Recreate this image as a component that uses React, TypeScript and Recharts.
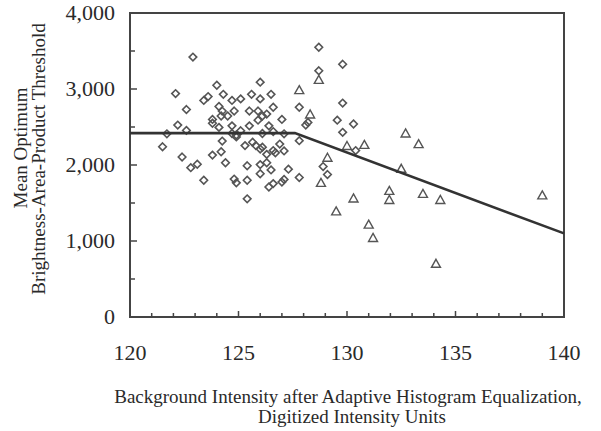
import { ScatterChart, Scatter, XAxis, YAxis, ReferenceArea } from "recharts";

// observers' points (x = background intensity, y = threshold)
const diamonds = [
  { x: 122.9, y: 3420 }, { x: 122.1, y: 2940 }, { x: 124.0, y: 3050 }, { x: 126.0, y: 3090 },
  { x: 125.6, y: 2930 }, { x: 124.3, y: 2930 }, { x: 123.6, y: 2900 }, { x: 123.4, y: 2850 },
  { x: 124.7, y: 2850 }, { x: 125.1, y: 2870 }, { x: 126.0, y: 2870 }, { x: 126.5, y: 2930 },
  { x: 122.6, y: 2730 }, { x: 124.1, y: 2770 }, { x: 124.25, y: 2710 }, { x: 124.8, y: 2710 },
  { x: 125.5, y: 2710 }, { x: 125.9, y: 2710 }, { x: 126.6, y: 2760 }, { x: 124.2, y: 2645 },
  { x: 124.5, y: 2645 }, { x: 126.1, y: 2645 }, { x: 126.3, y: 2670 }, { x: 123.8, y: 2600 },
  { x: 123.8, y: 2550 }, { x: 127.0, y: 2600 }, { x: 125.9, y: 2590 }, { x: 122.2, y: 2525 },
  { x: 122.6, y: 2455 }, { x: 124.1, y: 2495 }, { x: 124.7, y: 2515 }, { x: 125.5, y: 2515 },
  { x: 126.4, y: 2515 }, { x: 125.1, y: 2450 }, { x: 121.7, y: 2410 }, { x: 124.7, y: 2415 },
  { x: 124.9, y: 2395 }, { x: 126.1, y: 2415 }, { x: 126.6, y: 2440 }, { x: 127.1, y: 2410 },
  { x: 125.3, y: 2255 }, { x: 125.65, y: 2300 }, { x: 124.25, y: 2315 }, { x: 121.5, y: 2240 },
  { x: 125.8, y: 2255 }, { x: 126.1, y: 2235 }, { x: 126.9, y: 2275 }, { x: 126.6, y: 2190 },
  { x: 126.7, y: 2160 }, { x: 127.1, y: 2185 }, { x: 122.4, y: 2105 }, { x: 123.8, y: 2130 },
  { x: 124.2, y: 2175 }, { x: 126.3, y: 2140 }, { x: 124.4, y: 2030 }, { x: 122.8, y: 1965 },
  { x: 123.1, y: 2010 }, { x: 125.4, y: 1990 }, { x: 126.0, y: 2005 }, { x: 126.3, y: 2030 },
  { x: 126.0, y: 1885 }, { x: 126.5, y: 1935 }, { x: 127.3, y: 1945 }, { x: 127.8, y: 1835 },
  { x: 123.4, y: 1800 }, { x: 124.8, y: 1815 }, { x: 124.9, y: 1765 }, { x: 125.4, y: 1800 },
  { x: 126.6, y: 1755 }, { x: 126.4, y: 1710 }, { x: 127.0, y: 1775 }, { x: 127.1, y: 1810 },
  { x: 125.4, y: 1555 }, { x: 127.8, y: 2760 }, { x: 128.7, y: 3550 }, { x: 129.8, y: 3325 },
  { x: 128.7, y: 3240 }, { x: 129.8, y: 2815 }, { x: 129.55, y: 2590 }, { x: 130.3, y: 2540 },
  { x: 128.1, y: 2525 }, { x: 128.2, y: 2560 }, { x: 129.8, y: 2430 }, { x: 127.8, y: 2320 },
  { x: 130.4, y: 2190 }, { x: 128.9, y: 1980 }, { x: 129.1, y: 1875 }, { x: 126.0, y: 2210 },
  { x: 124.9, y: 2370 },
];

const triangles = [
  { x: 127.8, y: 2985 }, { x: 128.7, y: 3120 }, { x: 128.3, y: 2665 }, { x: 130.0, y: 2250 },
  { x: 130.8, y: 2265 }, { x: 132.7, y: 2415 }, { x: 133.3, y: 2275 }, { x: 129.1, y: 2095 },
  { x: 132.5, y: 1950 }, { x: 128.8, y: 1765 }, { x: 130.3, y: 1560 }, { x: 131.95, y: 1660 },
  { x: 131.95, y: 1540 }, { x: 133.5, y: 1620 }, { x: 134.3, y: 1540 }, { x: 129.5, y: 1390 },
  { x: 131.0, y: 1215 }, { x: 131.2, y: 1040 }, { x: 139.0, y: 1600 }, { x: 134.1, y: 700 },
];

// fitted broken-stick line
const fitLine = [
  { x: 120, y: 2420 },
  { x: 127.6, y: 2420 },
  { x: 140, y: 1100 },
];

const xTicks = [120, 121, 122, 123, 124, 125, 126, 127, 128, 129, 130, 131, 132, 133, 134, 135, 136, 137, 138, 139, 140];
const yTicks = [0, 500, 1000, 1500, 2000, 2500, 3000, 3500, 4000];

const FONT = "'Liberation Serif', 'DejaVu Serif', serif";
const INK = "#2a2a2a";
const AXIS = "#444";

const Diamond = (props: any) => {
  const { cx, cy } = props;
  const r = 3.8;
  return (
    <polygon
      points={`${cx},${cy - r} ${cx + r},${cy} ${cx},${cy + r} ${cx - r},${cy}`}
      fill="none"
      stroke="#555"
      strokeWidth={1.6}
    />
  );
};

const Triangle = (props: any) => {
  const { cx, cy } = props;
  return (
    <polygon
      points={`${cx},${cy - 4.5} ${cx + 4.5},${cy + 3.5} ${cx - 4.5},${cy + 3.5}`}
      fill="none"
      stroke="#555"
      strokeWidth={1.4}
    />
  );
};

const XTick = (props: any) => {
  const { x, y, payload } = props;
  const major = payload.value % 5 === 0;
  return (
    <g>
      <line x1={x} y1={y} x2={x} y2={y - (major ? 6 : 4)} stroke={AXIS} strokeWidth={1.5} />
      {major && (
        <text x={x} y={y + 43} textAnchor="middle" fontFamily={FONT} fontSize={22} fill={INK}>
          {payload.value}
        </text>
      )}
    </g>
  );
};

const YTick = (props: any) => {
  const { x, y, payload } = props;
  const major = payload.value % 1000 === 0;
  return (
    <g>
      <line x1={x} y1={y} x2={x + (major ? 7 : 5)} y2={y} stroke={AXIS} strokeWidth={1.5} />
      {major && (
        <text x={x - 15} y={y + 7} textAnchor="end" fontFamily={FONT} fontSize={22} fill={INK}>
          {payload.value.toLocaleString("en-US")}
        </text>
      )}
    </g>
  );
};

const XTitle = (props: any) => {
  const { viewBox } = props;
  const cx = viewBox.x + viewBox.width / 2;
  return (
    <text textAnchor="middle" fontFamily={FONT} fontSize={19} fill={INK}>
      <tspan x={cx + 1} y={viewBox.y + 86}>
        Background Intensity after Adaptive Histogram Equalization,
      </tspan>
      <tspan x={cx + 5} y={viewBox.y + 106}>
        Digitized Intensity Units
      </tspan>
    </text>
  );
};

const YTitle = () => (
  <g fontFamily={FONT} fontSize={19} fill={INK}>
    <text transform="translate(27,148) rotate(-90)" textAnchor="middle">
      Mean Optimum
    </text>
    <text transform="translate(45,159) rotate(-90)" textAnchor="middle">
      Brightness-Area-Product Threshold
    </text>
  </g>
);

export default function App() {
  return (
    <div style={{ position: "absolute", left: 0, top: 0, width: 601, height: 431, overflow: "hidden" }}>
      <ScatterChart width={601} height={431} margin={{ top: 13, right: 37, left: 0, bottom: 0 }}>
        <XAxis
          type="number"
          dataKey="x"
          domain={[120, 140]}
          ticks={xTicks}
          interval={0}
          tickSize={0}
          tickMargin={0}
          tick={<XTick />}
          height={114}
          axisLine={{ stroke: AXIS, strokeWidth: 2 }}
          label={<XTitle />}
        />
        <YAxis
          type="number"
          dataKey="y"
          domain={[0, 4000]}
          ticks={yTicks}
          interval={0}
          tickSize={0}
          tickMargin={0}
          tick={<YTick />}
          width={130}
          axisLine={{ stroke: AXIS, strokeWidth: 2 }}
          label={<YTitle />}
        />
        <ReferenceArea x1={120} x2={140} y1={0} y2={4000} fill="none" stroke={AXIS} strokeWidth={2} />
        <Scatter data={diamonds} shape={<Diamond />} isAnimationActive={false} />
        <Scatter data={triangles} shape={<Triangle />} isAnimationActive={false} />
        <Scatter
          data={fitLine}
          line={{ stroke: "#333", strokeWidth: 2.6 }}
          shape={() => <g />}
          isAnimationActive={false}
        />
      </ScatterChart>
    </div>
  );
}
